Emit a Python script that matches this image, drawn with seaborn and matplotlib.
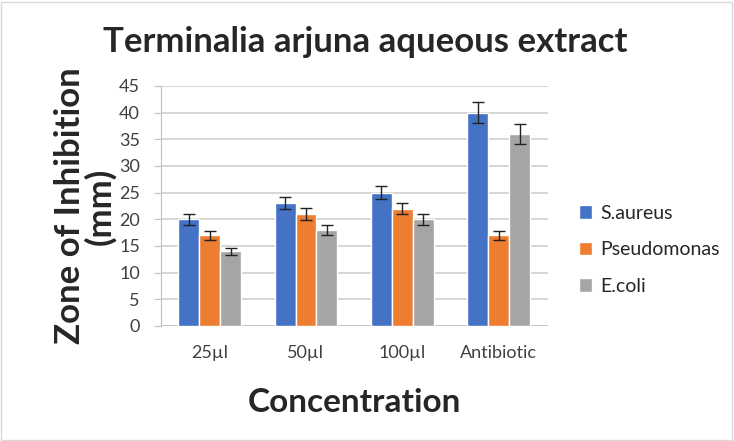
import pandas as pd
import seaborn as sns
import matplotlib.pyplot as plt
from matplotlib.patches import Rectangle

# Data
concentrations = ['25µl', '50µl', '100µl', 'Antibiotic']
organisms = ['S.aureus', 'Pseudomonas', 'E.coli']
s_aureus = [20, 23, 25, 40]
pseudomonas = [17, 21, 22, 17]
e_coli = [14, 18, 20, 36]
s_aureus_err = [1.0, 1.15, 1.25, 2.0]
pseudomonas_err = [0.85, 1.05, 1.1, 0.85]
e_coli_err = [0.7, 0.9, 1.0, 1.8]
colors = ['#4472C4', '#ED7D31', '#A5A5A5']

df = pd.DataFrame({
    'Concentration': concentrations * 3,
    'Organism': sum([[o] * 4 for o in organisms], []),
    'Zone': s_aureus + pseudomonas + e_coli,
    'err': s_aureus_err + pseudomonas_err + e_coli_err,
})

sns.set_style('white')
plt.rcParams['font.family'] = ['Lato', 'DejaVu Sans']

fig = plt.figure(figsize=(7.34, 4.41), dpi=100)
ax = fig.add_axes([0.219, 0.261, 0.527, 0.544])

sns.barplot(data=df, x='Concentration', y='Zone', hue='Organism',
            palette=colors, width=0.65, gap=0, errorbar=None, saturation=1,
            ax=ax, zorder=2)

# error bars at each bar's centre
for bar, (_, row) in zip(ax.patches, df.iterrows()):
    ax.errorbar(bar.get_x() + bar.get_width() / 2, bar.get_height(), yerr=row['err'],
                fmt='none', ecolor='#222222', elinewidth=1, capsize=4, capthick=1, zorder=3)

ax.set_ylim(0, 45)
ax.set_yticks(range(0, 46, 5))
ax.yaxis.grid(True, color='#D0D0D0', linewidth=1.2, zorder=0)
ax.set_axisbelow(True)
for s in ['top', 'right', 'bottom']:
    ax.spines[s].set_visible(False)
ax.spines['left'].set_color('#BFBFBF')
ax.axhline(0, color='#BFBFBF', linewidth=1.2, zorder=1)
ax.tick_params(axis='y', left=True, length=5, color='#BFBFBF', labelsize=13, labelcolor='#404040', pad=10)
ax.tick_params(axis='x', bottom=False, labelsize=13, labelcolor='#404040', pad=10)

ax.set_xlabel('Concentration', fontsize=24, fontweight='bold', labelpad=20)
ax.set_ylabel('Zone of Inhibition\n(mm)', fontsize=25, fontweight='bold', labelpad=2, linespacing=0.92)
fig.text(0.498, 0.905, 'Terminalia arjuna aqueous extract', ha='center', va='center',
         fontsize=25, fontweight='bold')

ax.legend(loc='center left', bbox_to_anchor=(1.035, 0.317), frameon=False,
          fontsize=14, handlelength=0.7, handleheight=0.7, labelspacing=1.0, handletextpad=0.4)

fig.patches.append(Rectangle((0.002, 0.003), 0.995, 0.993, transform=fig.transFigure,
                             fill=False, edgecolor='#D9D9D9', linewidth=1))

fig.savefig('out.png', dpi=100)
